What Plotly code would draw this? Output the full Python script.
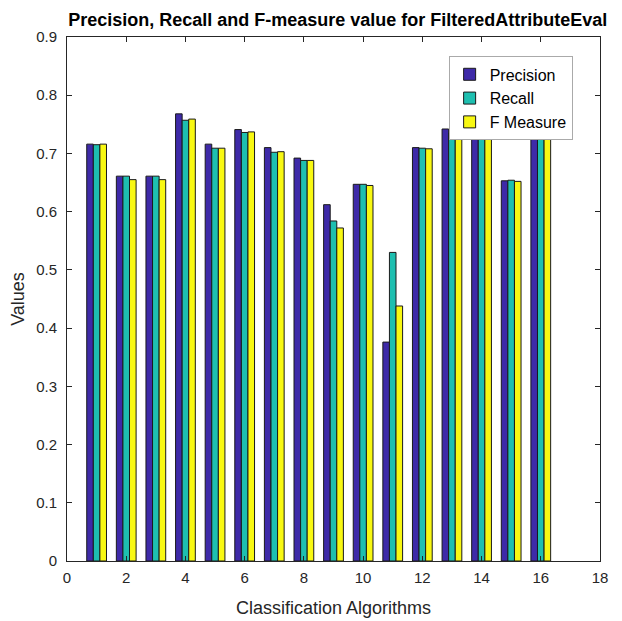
import plotly.graph_objects as go

algorithms = list(range(1, 17))
precision = [0.716, 0.661, 0.661, 0.768, 0.716, 0.741, 0.710, 0.692, 0.612, 0.647, 0.376, 0.710, 0.742, 0.750, 0.653, 0.745]
recall    = [0.715, 0.661, 0.661, 0.757, 0.709, 0.736, 0.702, 0.688, 0.584, 0.647, 0.530, 0.709, 0.735, 0.745, 0.654, 0.742]
fmeasure  = [0.716, 0.655, 0.655, 0.759, 0.709, 0.737, 0.703, 0.688, 0.572, 0.645, 0.438, 0.708, 0.737, 0.746, 0.652, 0.743]

series_names = ["Precision", "Recall", "F Measure"]
series_colors = ["#3E2AA8", "#1EBFB0", "#F8F812"]

fig = go.Figure()
for name, vals, col in zip(series_names, [precision, recall, fmeasure], series_colors):
    fig.add_trace(go.Bar(
        x=algorithms, y=vals, name=name,
        marker=dict(color=col, line=dict(color="#1a1a1a", width=1)),
    ))

sans = "Liberation Sans, Arial, sans-serif"
fig.update_layout(
    width=614, height=613,
    margin=dict(l=59, r=22, t=29, b=60),
    paper_bgcolor="white", plot_bgcolor="white",
    barmode="group", bargap=0.333, bargroupgap=0,
    title=dict(text="<b>Precision, Recall and F-measure value for FilteredAttributeEval</b>",
               x=0.537, xanchor="center", y=0.992, yanchor="top",
               font=dict(family=sans, size=18, color="#000000")),
    font=dict(family=sans, size=15, color="#262626"),
    showlegend=True,
    legend=dict(x=0.716, y=0.963, xanchor="left", yanchor="top",
                bgcolor="white", bordercolor="#aaaaaa", borderwidth=1,
                font=dict(family=sans, size=16, color="#000000"),
                entrywidth=95, tracegroupgap=0),
)
fig.update_xaxes(
    range=[0, 18], tickmode="array", tickvals=list(range(0, 19, 2)),
    ticks="inside", ticklen=5, tickcolor="#262626", ticklabelstandoff=3,
    showline=True, linecolor="#262626", linewidth=1, mirror="ticks",
    showgrid=False, zeroline=False, automargin=False,
    title=dict(text="Classification Algorithms", font=dict(size=18, color="#262626"), standoff=16),
)
fig.update_yaxes(
    range=[0, 0.9], dtick=0.1, tickformat="~g",
    ticks="inside", ticklen=5, tickcolor="#262626", ticklabelstandoff=6,
    showline=True, linecolor="#262626", linewidth=1, mirror="ticks",
    showgrid=False, zeroline=False, automargin=False,
    title=dict(text="Values", font=dict(size=18, color="#262626"), standoff=8),
)
fig.write_html("out.html")
